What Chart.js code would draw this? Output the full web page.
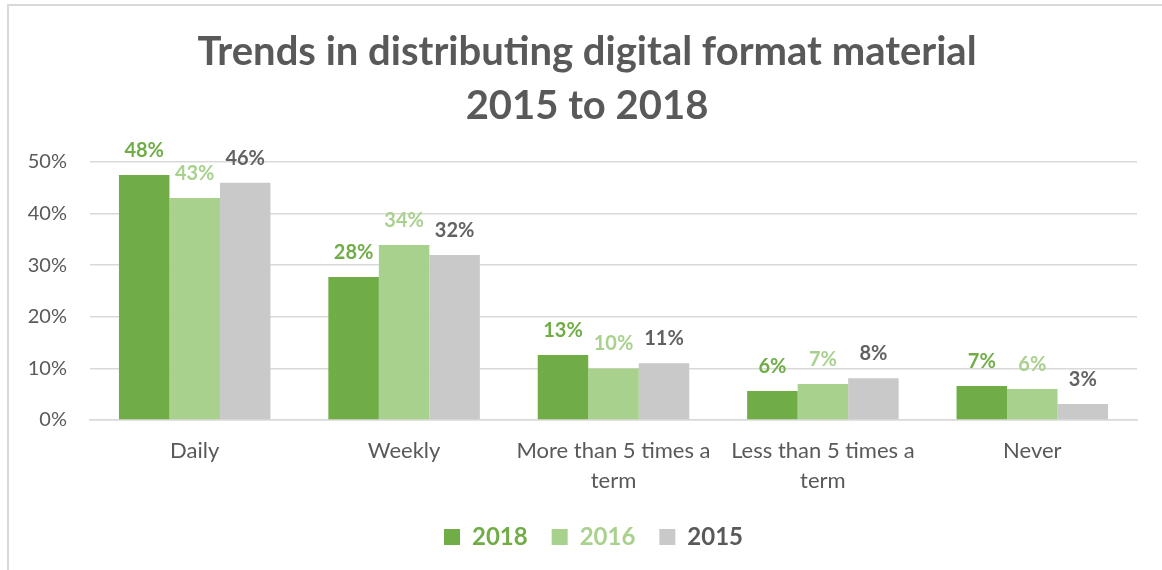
<!DOCTYPE html>
<html>
<head>
<meta charset="utf-8">
<script src="https://cdn.jsdelivr.net/npm/chart.js@4/dist/chart.umd.min.js"></script>
<style>
  html, body { margin: 0; padding: 0; background: #fff; overflow: hidden; width: 1162px; height: 570px; }
  #frame { position: absolute; left: 7px; top: 4px; width: 2000px; height: 2000px; border-left: 2px solid #D9D9D9; border-top: 2px solid #D9D9D9; }
  #c { position: absolute; left: 0; top: 0; }
</style>
</head>
<body>
<div id="frame"></div>
<canvas id="c" width="1174" height="570"></canvas>
<script>
const categories = ['Daily', 'Weekly', ['More than 5 times a', 'term'], ['Less than 5 times a', 'term'], 'Never'];
const seriesNames = ['2018', '2016', '2015'];
const values2018 = [47.5, 27.7, 12.6, 5.6, 6.6];
const values2016 = [43.0, 33.9, 10.0, 7.0, 6.0];
const values2015 = [46.0, 32.0, 11.0, 8.1, 3.1];
const barColors = ['#70AD47', '#A9D18E', '#C9C9C9'];
const labelColors = ['#70AD47', '#A9D18E', '#626262'];
const legendTextColors = ['#70AD47', '#A9D18E', '#595959'];
const yTicks = [0, 10, 20, 30, 40, 50];

const FONT = 'Lato, "Open Sans", sans-serif';
const GREY = '#595959';

const valueLabels = {
  id: 'valueLabels',
  afterDatasetsDraw(chart) {
    const ctx = chart.ctx;
    ctx.save();
    ctx.font = 'bold 20px ' + FONT;
    ctx.textAlign = 'center';
    ctx.textBaseline = 'alphabetic';
    chart.data.datasets.forEach((ds, i) => {
      const meta = chart.getDatasetMeta(i);
      ctx.fillStyle = labelColors[i];
      meta.data.forEach((bar, j) => {
        ctx.fillText(Math.round(ds.data[j]) + '%', bar.x, bar.y - 18);
      });
    });
    ctx.restore();
  }
};

// centre the title and legend on the full frame rather than on the padded box
const recentre = {
  id: 'recentre',
  afterLayout(chart) {
    if (chart.titleBlock) { chart.titleBlock.left += 18.5; chart.titleBlock.right += 18.5; }
    if (chart.legend) { chart.legend.left += 25; chart.legend.right += 25; }
  }
};

new Chart(document.getElementById('c'), {
  type: 'bar',
  data: {
    labels: categories,
    datasets: [
      { label: seriesNames[0], data: values2018, backgroundColor: barColors[0] },
      { label: seriesNames[1], data: values2016, backgroundColor: barColors[1] },
      { label: seriesNames[2], data: values2015, backgroundColor: barColors[2] }
    ]
  },
  options: {
    responsive: false,
    animation: false,
    devicePixelRatio: 1,
    layout: { padding: { left: 0, right: 37, top: 0, bottom: 11 } },
    datasets: { bar: { categoryPercentage: 0.7235, barPercentage: 1.0, borderWidth: 0 } },
    scales: {
      x: {
        grid: { display: false, drawTicks: false },
        border: { display: true, color: '#D9D9D9', width: 1.5 },
        ticks: { color: GREY, font: { family: FONT, size: 22, lineHeight: 1.36 }, padding: 16, maxRotation: 0, autoSkip: false },
        afterFit(scale) { scale.height = 81; }
      },
      y: {
        min: 0, max: 50,
        afterBuildTicks(scale) { scale.ticks = yTicks.map(v => ({ value: v })); },
        grid: { color: '#D9D9D9', lineWidth: 1.5, drawTicks: false },
        border: { display: false },
        ticks: { color: GREY, font: { family: FONT, size: 20 }, padding: 23, callback: v => v + '%' },
        afterFit(scale) { scale.width = 90; }
      }
    },
    plugins: {
      title: {
        display: true,
        text: ['Trends in distributing digital format material', '2015 to 2018'],
        color: GREY,
        font: { family: FONT, size: 40, weight: 'bold', lineHeight: 1.35 },
        padding: { top: 25, bottom: 29 }
      },
      legend: {
        position: 'bottom',
        labels: {
          boxWidth: 16, boxHeight: 16, padding: 24,
          font: { family: FONT, size: 24, weight: 'bold' },
          generateLabels(chart) {
            return chart.data.datasets.map((ds, i) => ({
              text: ds.label,
              fillStyle: barColors[i],
              strokeStyle: barColors[i],
              lineWidth: 0,
              fontColor: legendTextColors[i],
              datasetIndex: i,
              hidden: false
            }));
          }
        }
      },
      tooltip: { enabled: false }
    }
  },
  plugins: [valueLabels, recentre]
});
</script>
</body>
</html>
